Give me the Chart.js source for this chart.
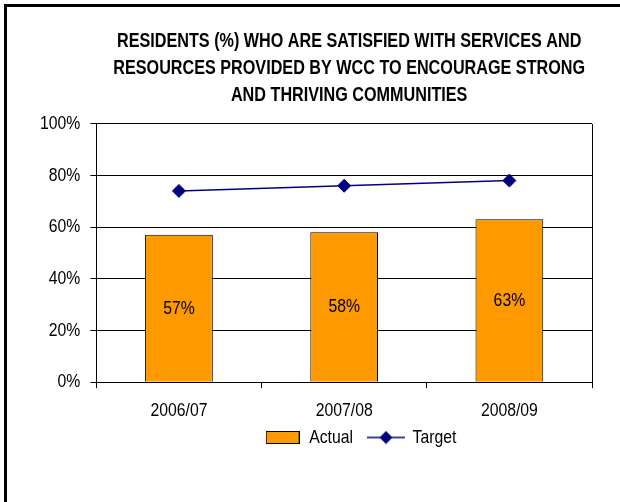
<!DOCTYPE html>
<html>
<head>
<meta charset="utf-8">
<style>
  html, body { margin: 0; padding: 0; background: #fff; }
  #wrap { position: relative; width: 620px; height: 502px; }
</style>
<script src="https://cdn.jsdelivr.net/npm/chart.js@4"></script>
</head>
<body>
<div id="wrap"><canvas id="myChart" width="620" height="502"></canvas></div>
<script>
const years = ["2006/07", "2007/08", "2008/09"];
const actual = [57, 58, 63];
const target = [74, 76, 78];
const titleLines = [
  "RESIDENTS (%) WHO ARE SATISFIED WITH SERVICES AND",
  "RESOURCES PROVIDED BY WCC TO ENCOURAGE STRONG",
  "AND THRIVING COMMUNITIES",
];

const ORANGE = "#FF9900";
const NAVY = "#000080";
const FONT = "'Liberation Sans', Arial, sans-serif";
// horizontal squeeze applied to all text, for a narrow typeface look
const SQUEEZE = 0.83;

Chart.defaults.font.family = FONT;
Chart.defaults.font.size = 19;
Chart.defaults.color = "#000";

// legend swatches: orange box, and a line with a diamond
function makeBox() {
  const c = document.createElement("canvas");
  c.width = 34;
  c.height = 13;
  const g = c.getContext("2d");
  g.fillStyle = ORANGE;
  g.fillRect(0, 0, 34, 13);
  g.strokeStyle = "#000";
  g.lineWidth = 1;
  g.strokeRect(0.5, 0.5, 33, 12);
  return c;
}

function makeLineMark() {
  const c = document.createElement("canvas");
  c.width = 38;
  c.height = 14;
  const g = c.getContext("2d");
  g.strokeStyle = NAVY;
  g.lineWidth = 1.5;
  g.beginPath();
  g.moveTo(0, 7);
  g.lineTo(38, 7);
  g.stroke();
  g.fillStyle = NAVY;
  g.beginPath();
  g.moveTo(19, 0.5);
  g.lineTo(25.5, 7);
  g.lineTo(19, 13.5);
  g.lineTo(12.5, 7);
  g.closePath();
  g.fill();
  return c;
}

const swatches = [makeBox(), makeLineMark()];

// outer frame (top and left edges) plus right side of the plot box
const framePlugin = {
  id: "frame",
  afterLayout(chart) {
    // nudge legend and title sideways / up
    chart.legend.left += 50;
    chart.legend.right += 50;
    chart.legend.top -= 21;
    chart.legend.bottom -= 21;
    chart.titleBlock.left += 5;
    chart.titleBlock.right += 5;
  },
  beforeDraw(chart) {
    const { ctx, width, height } = chart;
    ctx.save();
    ctx.fillStyle = "#000";
    ctx.fillRect(4, 4, 3, height - 4);
    ctx.fillRect(4, 4, width - 4, 3);
    ctx.restore();
  },
  afterDraw(chart) {
    const { ctx, chartArea } = chart;
    const x = Math.round(chartArea.right) + 0.5;
    ctx.save();
    ctx.strokeStyle = "#000";
    ctx.lineWidth = 1;
    ctx.beginPath();
    ctx.moveTo(x, Math.round(chartArea.top));
    ctx.lineTo(x, Math.round(chartArea.bottom));
    ctx.stroke();
    ctx.restore();
  },
};

// percentage written in the middle of each bar
const barLabels = {
  id: "barLabels",
  afterDatasetsDraw(chart) {
    const { ctx } = chart;
    const meta = chart.getDatasetMeta(0);
    ctx.save();
    ctx.fillStyle = "#000";
    ctx.font = "19px " + FONT;
    ctx.textAlign = "center";
    ctx.textBaseline = "middle";
    meta.data.forEach((bar, i) => {
      const v = chart.data.datasets[0].data[i];
      ctx.fillText(v + "%", bar.x, (bar.y + bar.base) / 2);
    });
    ctx.restore();
  },
};

const ctx = document.getElementById("myChart").getContext("2d");

// narrow text: squeeze on draw, and report the squeezed width to the layout
const rawFill = ctx.fillText.bind(ctx);
const rawMeasure = ctx.measureText.bind(ctx);
ctx.fillText = function (text, x, y, maxWidth) {
  ctx.save();
  ctx.translate(x, y);
  ctx.scale(SQUEEZE, 1);
  if (maxWidth !== undefined) rawFill(text, 0, 0, maxWidth / SQUEEZE);
  else rawFill(text, 0, 0);
  ctx.restore();
};
ctx.measureText = function (text) {
  const m = rawMeasure(text);
  return {
    width: m.width * SQUEEZE,
    actualBoundingBoxAscent: m.actualBoundingBoxAscent,
    actualBoundingBoxDescent: m.actualBoundingBoxDescent,
  };
};

const data = {
  labels: years,
  datasets: [
    {
      type: "bar",
      label: "Actual",
      data: actual,
      backgroundColor: ORANGE,
      borderColor: "#000",
      borderWidth: 1,
      categoryPercentage: 1,
      barPercentage: 0.41,
      order: 2,
    },
    {
      type: "line",
      label: "Target",
      data: target,
      borderColor: NAVY,
      borderWidth: 1.5,
      backgroundColor: NAVY,
      pointStyle: "rectRot",
      pointRadius: 6.5,
      pointBorderWidth: 1,
      pointBackgroundColor: NAVY,
      pointBorderColor: NAVY,
      tension: 0,
      order: 1,
    },
  ],
};

const config = {
  type: "bar",
  data: data,
  plugins: [framePlugin, barLabels],
  options: {
    responsive: false,
    animation: false,
    layout: {
      padding: { left: 30, right: 28, top: 0, bottom: 24 },
    },
    plugins: {
      title: {
        display: true,
        text: titleLines,
        fullSize: false,
        color: "#000",
        font: { size: 19.5, weight: "bold", lineHeight: 1.38 },
        padding: { top: 28, bottom: 15 },
      },
      legend: {
        position: "bottom",
        labels: {
          usePointStyle: true,
          pointStyleWidth: 34,
          padding: 16,
          color: "#000",
          font: { size: 19 },
          generateLabels: (chart) =>
            chart.data.datasets.map((ds, i) => ({
              text: ds.label,
              datasetIndex: i,
              pointStyle: swatches[i],
              fillStyle: "transparent",
              strokeStyle: "transparent",
              lineWidth: 0,
              hidden: false,
            })),
        },
      },
      tooltip: { enabled: false },
    },
    scales: {
      x: {
        offset: true,
        grid: {
          offset: true,
          drawOnChartArea: false,
          tickLength: 6,
          color: "#000",
        },
        border: { color: "#000", width: 1 },
        ticks: { padding: 11, color: "#000" },
      },
      y: {
        min: 0,
        max: 100,
        grid: { color: "#000", tickLength: 6, tickColor: "#000" },
        border: { color: "#000", width: 1 },
        ticks: {
          stepSize: 20,
          padding: 10,
          color: "#000",
          callback: (value) => value + "%",
        },
      },
    },
  },
};

const myChart = new Chart(ctx, config);
</script>
</body>
</html>
